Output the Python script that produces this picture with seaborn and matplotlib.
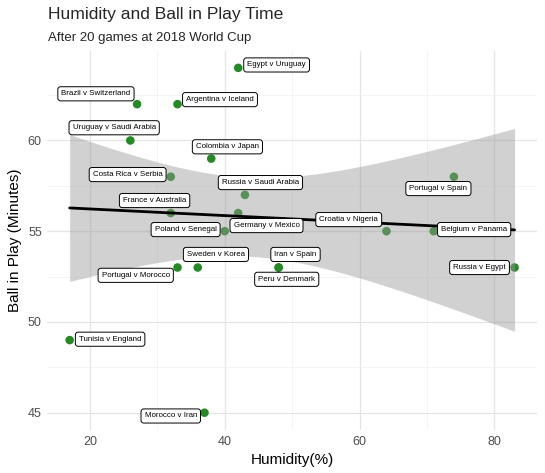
import numpy as np
import pandas as pd
import matplotlib.pyplot as plt
import seaborn as sns
from matplotlib.ticker import MultipleLocator

# data
games = ['Egypt v Uruguay', 'Brazil v Switzerland', 'Argentina v Iceland', 'Uruguay v Saudi Arabia',
         'Colombia v Japan', 'Costa Rica v Serbia', 'Russia v Saudi Arabia', 'France v Australia',
         'Germany v Mexico', 'Poland v Senegal', 'Croatia v Nigeria', 'Belgium v Panama',
         'Portugal v Spain', 'Sweden v Korea', 'Portugal v Morocco', 'Iran v Spain',
         'Peru v Denmark', 'Russia v Egypt', 'Tunisia v England', 'Morocco v Iran']
humidity = [42, 27, 33, 26, 38, 32, 43, 32, 42, 40, 64, 71, 74, 36, 33, 48, 48, 83, 17, 37]
ball_in_play = [64, 62, 62, 60, 59, 58, 57, 56, 56, 55, 55, 55, 58, 53, 53, 53, 53, 53, 49, 45]

# where the repelled labels ended up (data units)
label_x = [47.7, 20.9, 39.3, 23.6, 40.4, 25.6, 45.3, 29.6, 46.2, 34.2, 58.4, 77.0,
           71.7, 38.7, 26.8, 50.5, 49.2, 77.8, 23.0, 32.0]
label_y = [64.16, 62.57, 62.25, 60.70, 59.65, 58.12, 57.68, 56.69, 55.31, 55.09, 55.64, 55.09,
           57.35, 53.72, 52.57, 53.72, 52.35, 53.0, 49.05, 44.82]

df = pd.DataFrame({'game': games, 'humidity': humidity, 'bip': ball_in_play,
                   'lx': label_x, 'ly': label_y})

# linear fit with the usual t-based 95% band (like geom_smooth(method='lm'))
x = df.humidity.values.astype(float)
y = df.bip.values.astype(float)
n = len(x)
b1, b0 = np.polyfit(x, y, 1)
resid = y - (b0 + b1 * x)
s = np.sqrt((resid ** 2).sum() / (n - 2))
t_crit = 2.1009  # t(0.975, df=18)
grid = np.linspace(x.min(), x.max(), 80)
fit = b0 + b1 * grid
se = s * np.sqrt(1 / n + (grid - x.mean()) ** 2 / ((x - x.mean()) ** 2).sum())
band = pd.DataFrame({'x': grid, 'fit': fit, 'lo': fit - t_crit * se, 'hi': fit + t_crit * se})

sns.set_theme(style='whitegrid')
plt.rcParams['font.family'] = ['Liberation Sans', 'DejaVu Sans']

fig = plt.figure(figsize=(5.45, 4.73), dpi=100)
ax = fig.add_axes([0.087, 0.091, 0.898, 0.802])

sns.scatterplot(data=df, x='humidity', y='bip', color='#228B22', s=38,
                edgecolor='none', zorder=2, ax=ax)
ax.fill_between(band.x, band.lo, band.hi, color='#999999', alpha=0.45, lw=0, zorder=3)
sns.lineplot(data=band, x='x', y='fit', color='black', lw=2, zorder=4, ax=ax)

for _, r in df.iterrows():
    ax.text(r.lx, r.ly, r.game, fontsize=5.7, ha='center', va='center', zorder=5,
            color='black',
            bbox=dict(boxstyle='round,pad=0.45,rounding_size=0.35', fc='white', ec='black', lw=0.7))

ax.set_xlim(13.7, 86.3)
ax.set_ylim(44.05, 64.95)
ax.xaxis.set_major_locator(MultipleLocator(20))
ax.yaxis.set_major_locator(MultipleLocator(5))
ax.xaxis.set_minor_locator(MultipleLocator(10))
ax.yaxis.set_minor_locator(MultipleLocator(2.5))
ax.grid(which='major', color='#e5e5e5', lw=0.9)
ax.grid(which='minor', color='#f0f0f0', lw=0.5)
for sp in ax.spines.values():
    sp.set_visible(False)
ax.tick_params(axis='both', which='both', length=0, labelsize=9, labelcolor='#4d4d4d', pad=4)

ax.set_xlabel('Humidity(%)', fontsize=11, color='black')
ax.set_ylabel('Ball in Play (Minutes)', fontsize=11, color='black')

fig.text(0.088, 0.970, 'Humidity and Ball in Play Time', fontsize=12.6, va='center')
fig.text(0.088, 0.920, 'After 20 games at 2018 World Cup', fontsize=9.5, va='center')

fig.savefig('out.png', dpi=100)
